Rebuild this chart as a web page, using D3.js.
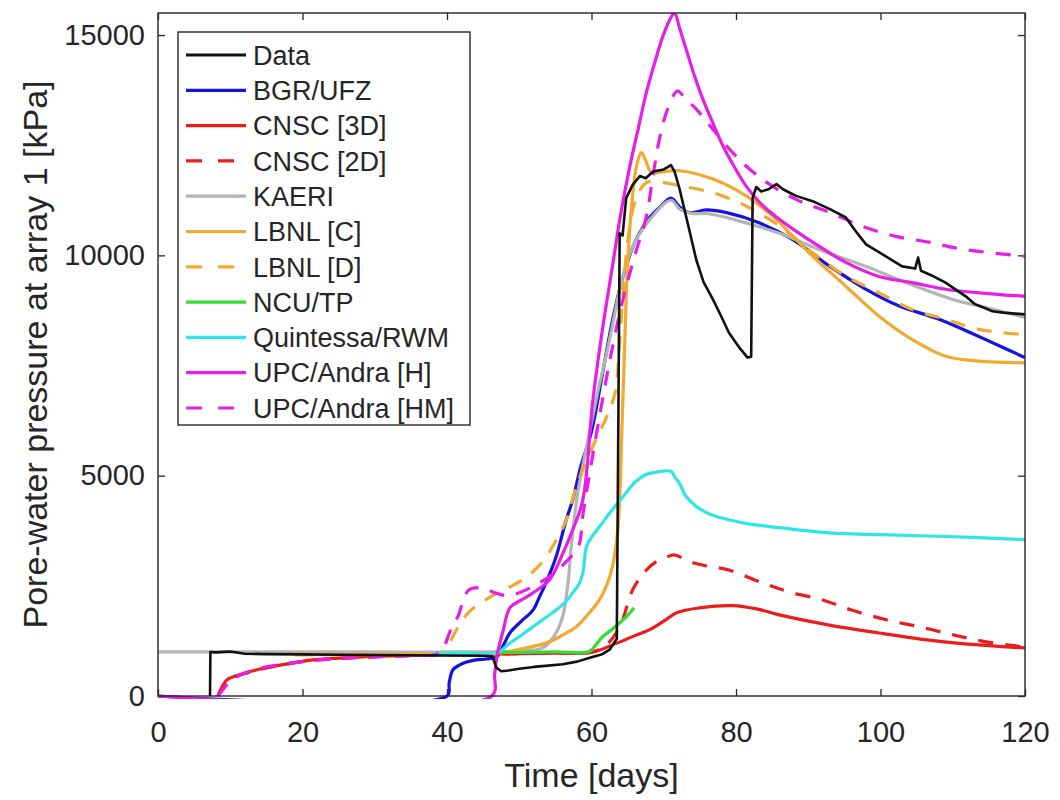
<!DOCTYPE html>
<html>
<head>
<meta charset="utf-8">
<script src="https://cdn.jsdelivr.net/npm/d3@7"></script>
<style>
  body { margin: 0; background: #fff; }
  svg { font-family: "Liberation Sans", Arial, Helvetica, sans-serif; }
</style>
</head>
<body>
<svg id="chart" width="1060" height="800"></svg>
<script>
// values: [time (days), pressure (kPa)]
const obsData = [[7.2,0],[7.25,1000],[8,990],[10,1010],[12,960],[15,950],[20,945],[25,935],[30,930],[35,925],[40,920],[45,915],[46.3,900],[46.8,650],[47.5,560],[48.5,580],[50,620],[52,660],[54,690],[56,720],[58,780],[60,880],[61.5,950],[62.5,1050],[63.5,1300],[63.9,10500],[64.3,10450],[64.8,11300],[65.7,11600],[66.7,11800],[67.5,11750],[68.5,11900],[70,11950],[71,12050],[71.5,11900],[72.2,11500],[73.5,10600],[74.5,9900],[75.5,9400],[76.8,9000],[78,8600],[79,8250],[80.5,7900],[81.6,7680],[82.1,7700],[82.3,11300],[82.8,11550],[83.5,11450],[84.5,11500],[85.6,11620],[86.5,11500],[88.3,11350],[90.6,11230],[93,11050],[95.2,10860],[96.7,10520],[98,10250],[100,10050],[103,9750],[104.8,9700],[105.2,9950],[105.6,9650],[107,9550],[109,9380],[111.8,9070],[113,8900],[115.5,8730],[117,8700],[120,8660]];

const bgrUfz = [[0,0],[40,0],[40.3,300],[40.8,590],[41.7,700],[42.7,770],[44,820],[45.5,840],[46.9,890],[47.8,1150],[48.7,1430],[50.3,1700],[51.9,1950],[52.8,2250],[53.7,2570],[55.1,3160],[56.5,4000],[57.4,4450],[58.5,5200],[60,6000],[61.5,7300],[63,8600],[64.5,9600],[66,10300],[68,10850],[69.5,11100],[71,11300],[72.2,11100],[73.5,10970],[75.9,11030],[78.7,10970],[83.2,10740],[87.8,10360],[92.9,9760],[98,9230],[102.6,8850],[108.1,8550],[113.6,8160],[120,7680]];

const cnsc3d = [[8.3,0],[9.5,360],[11,470],[12.7,550],[14.5,630],[16.9,700],[21.4,820],[25,860],[30,900],[35,920],[40,940],[45,950],[50,960],[55,970],[60,990],[63.5,1200],[66,1370],[68,1500],[70,1700],[71.8,1890],[75,2000],[79.5,2050],[83,1970],[86,1840],[92.9,1610],[99.8,1430],[106.7,1270],[113.6,1160],[120,1090]];

const cnsc2d = [[8.3,0],[9.5,340],[11,460],[12.7,540],[14.5,620],[17,700],[21,800],[25,850],[30,890],[35,915],[40,930],[45,945],[50,960],[55,975],[60,1000],[62,1150],[63.9,1570],[65.7,2410],[67.6,2860],[69,3050],[70.5,3160],[71.5,3200],[73.6,3050],[76,2950],[79,2860],[83.6,2570],[87.4,2360],[92,2180],[96,1950],[100.8,1730],[105.4,1570],[110,1390],[114.6,1230],[120,1110]];

const kaeri = [[0,1000],[10,1000],[20,1000],[30,1000],[40,1000],[50,1020],[53.2,1090],[54.8,1350],[56,1800],[56.7,2500],[57.2,3390],[58,4500],[59,5400],[60,6200],[61,7000],[62,7700],[63,8500],[64,9300],[65,9900],[66,10300],[68,10800],[71,11250],[72.2,11050],[74,10950],[76,10950],[80,10800],[86,10500],[92,10100],[98,9750],[104,9350],[110,9000],[115,8800],[120,8590]];

const lbnlC = [[19,930],[25,940],[30,940],[35,945],[40,950],[45,960],[47.3,980],[50,1060],[53.7,1200],[56,1380],[57.9,1570],[59.5,1850],[61.1,2180],[62.2,2550],[62.9,2930],[63.6,3700],[63.9,4450],[64.2,6000],[64.6,8000],[65,9800],[65.6,11200],[66.2,12000],[66.9,12330],[67.5,12150],[68.3,11880],[70,11900],[72.2,11920],[76.8,11730],[81.4,11350],[85.1,10890],[88.3,10360],[90.6,9980],[95.2,9300],[99.8,8620],[104.4,8090],[109,7710],[113.6,7600],[120,7560]];

const lbnlD = [[19,940],[25,945],[30,950],[35,955],[38.5,960],[39.4,980],[40.3,1200],[41.5,1550],[43,1900],[46,2250],[49,2500],[51,2700],[53,3000],[55,3500],[56.5,4000],[58,4800],[60,5600],[62,6300],[63.3,6900],[63.8,7800],[64.3,9000],[65,10300],[66,11200],[67.6,11650],[70,11650],[72.2,11580],[76.8,11420],[81.4,11120],[86,10670],[90.6,10060],[95.2,9530],[99.8,9150],[104.4,8770],[109,8550],[113.6,8320],[120,8200]];

const ncuTp = [[46.5,990],[50,990],[55,1000],[59.7,1010],[60.8,1200],[61.5,1340],[63,1530],[63.9,1660],[65,1830],[65.9,2000]];

const quintessa = [[38,970],[42,975],[46.9,985],[48.7,1200],[50.3,1380],[51.9,1570],[53.5,1760],[55.1,1950],[56.5,2150],[57.4,2340],[58.3,2550],[58.8,2790],[59.3,3390],[60,3600],[61.1,3840],[62.9,4230],[64.5,4550],[66,4850],[67.5,5020],[69,5080],[71,5100],[71.6,4950],[72.2,4820],[73,4550],[74.5,4300],[76.5,4120],[79,4000],[82,3900],[86,3820],[92.9,3700],[99.8,3660],[109,3620],[120,3550]];

const upcH = [[0,0],[46.2,0],[46.6,500],[47,980],[47.8,1500],[48.7,2000],[50.3,2180],[51.9,2340],[54.2,2640],[55.8,3150],[57.4,3770],[58.8,4450],[60.2,6730],[61.5,8300],[62.9,9750],[64,10900],[65.3,12020],[66.5,12900],[67.6,13700],[68.8,14400],[69.9,14980],[71,15400],[71.5,15500],[72.2,15150],[73.1,14680],[74.2,14100],[75.4,13550],[76.8,13000],[78.2,12480],[79.8,12000],[81.4,11570],[83.5,11160],[86,10820],[88.3,10550],[90.6,10300],[95.2,9840],[99.8,9520],[104.4,9380],[109,9230],[113.6,9150],[120,9070]];

const upcHM = [[8.3,0],[9,150],[10,330],[12,520],[15,660],[20,780],[25,850],[30,890],[35,920],[38.5,950],[39.5,1100],[40.5,1500],[41.5,1800],[43,2400],[45,2450],[46.5,2350],[48.5,2280],[51.5,2450],[54.5,2750],[56.5,3050],[58.2,3400],[58.8,4100],[60,5300],[61.5,6700],[63,8000],[64.5,9100],[66,10000],[67.6,10890],[68.5,11800],[69.4,12640],[70.5,13300],[71.9,13730],[73,13550],[74.5,13320],[76.8,12860],[80,12250],[83.6,11730],[88.3,11270],[92.9,10980],[97.5,10660],[102.1,10430],[106.7,10300],[111.3,10140],[120,9980]];

const xTicks = [0, 20, 40, 60, 80, 100, 120];
const yTicks = [0, 5000, 10000, 15000];

const series = [
  { name: "Data", values: obsData, color: "#111111", dash: null, smooth: false },
  { name: "BGR/UFZ", values: bgrUfz, color: "#1414dc", dash: null, smooth: true },
  { name: "CNSC [3D]", values: cnsc3d, color: "#ea1c1c", dash: null, smooth: true },
  { name: "CNSC [2D]", values: cnsc2d, color: "#ea1c1c", dash: "15,12", smooth: true },
  { name: "KAERI", values: kaeri, color: "#b4b4b4", dash: null, smooth: true },
  { name: "LBNL [C]", values: lbnlC, color: "#f2a930", dash: null, smooth: true },
  { name: "LBNL [D]", values: lbnlD, color: "#f2a930", dash: "15,12", smooth: true },
  { name: "NCU/TP", values: ncuTp, color: "#36dc36", dash: null, smooth: true },
  { name: "Quintessa/RWM", values: quintessa, color: "#2ee6e6", dash: null, smooth: true },
  { name: "UPC/Andra [H]", values: upcH, color: "#e61ee6", dash: null, smooth: true },
  { name: "UPC/Andra [HM]", values: upcHM, color: "#e61ee6", dash: "15,12", smooth: true }
];

const textColor = "#262626";
const svg = d3.select("#chart");

const x = d3.scaleLinear().domain([0, 120]).range([158, 1025]);
const y = d3.scaleLinear().domain([0, 15500]).range([696, 13]);

// clip a little below the x axis so lines sitting at 0 stay visible
svg.append("defs").append("clipPath").attr("id", "plotArea")
  .append("rect")
  .attr("x", x(0)).attr("y", y(15500))
  .attr("width", x(120) - x(0)).attr("height", y(0) - y(15500) + 3);

// axes with inward ticks
const xAxis = svg.append("g")
  .attr("transform", `translate(0,${y(0)})`)
  .call(d3.axisBottom(x).tickValues(xTicks).tickSizeInner(-7).tickSizeOuter(0).tickPadding(25));
const xAxisTop = svg.append("g")
  .attr("transform", `translate(0,${y(15500)})`)
  .call(d3.axisTop(x).tickValues(xTicks).tickSizeInner(-7).tickSizeOuter(0).tickFormat(""));
const yAxis = svg.append("g")
  .attr("transform", `translate(${x(0)},0)`)
  .call(d3.axisLeft(y).tickValues(yTicks).tickFormat(d3.format("d")).tickSizeInner(-7).tickSizeOuter(0).tickPadding(13));
const yAxisRight = svg.append("g")
  .attr("transform", `translate(${x(120)},0)`)
  .call(d3.axisRight(y).tickValues(yTicks).tickSizeInner(-7).tickSizeOuter(0).tickFormat(""));

[xAxis, xAxisTop, yAxis, yAxisRight].forEach(g => {
  g.select(".domain").remove();
  g.selectAll(".tick line").attr("stroke", textColor).attr("stroke-width", 1.3);
  g.selectAll(".tick text")
    .attr("fill", textColor)
    .style("font-size", "29px")
    .style("font-family", "'Liberation Sans', Arial, sans-serif");
});

// lines
const plot = svg.append("g").attr("clip-path", "url(#plotArea)");
const lineSmooth = d3.line().x(d => x(d[0])).y(d => y(d[1])).curve(d3.curveCatmullRom.alpha(0.5));
const lineRaw = d3.line().x(d => x(d[0])).y(d => y(d[1]));

// data drawn last so it stays on top
const drawOrder = series.slice(1).concat([series[0]]);
drawOrder.forEach(s => {
  plot.append("path")
    .attr("d", s.smooth ? lineSmooth(s.values) : lineRaw(s.values))
    .attr("fill", "none")
    .attr("stroke", s.color)
    .attr("stroke-width", s.smooth ? 3.2 : 2.6)
    .attr("stroke-linejoin", "round")
    .attr("stroke-dasharray", s.dash);
});

// box
svg.append("rect")
  .attr("x", x(0)).attr("y", y(15500))
  .attr("width", x(120) - x(0)).attr("height", y(0) - y(15500))
  .attr("fill", "none").attr("stroke", textColor).attr("stroke-width", 1.4);

// axis labels
svg.append("text")
  .attr("x", (x(0) + x(120)) / 2).attr("y", 787)
  .attr("text-anchor", "middle")
  .attr("fill", textColor)
  .style("font-size", "34px")
  .text("Time [days]");

svg.append("text")
  .attr("transform", `translate(47,${(y(0) + y(15500)) / 2}) rotate(-90)`)
  .attr("text-anchor", "middle")
  .attr("fill", textColor)
  .style("font-size", "34px")
  .text("Pore-water pressure at array 1 [kPa]");

// legend
const legend = svg.append("g");
legend.append("rect")
  .attr("x", 178).attr("y", 32).attr("width", 292).attr("height", 393)
  .attr("fill", "#fff").attr("stroke", textColor).attr("stroke-width", 1.4);

series.forEach((s, i) => {
  const ly = 55 + i * 35.3;
  legend.append("line")
    .attr("x1", 186).attr("x2", 246).attr("y1", ly).attr("y2", ly)
    .attr("stroke", s.color).attr("stroke-width", 3.2)
    .attr("stroke-dasharray", s.dash ? "16,16" : null);
  legend.append("text")
    .attr("x", 253).attr("y", ly)
    .attr("dy", "0.36em")
    .attr("fill", textColor)
    .style("font-size", "27px")
    .text(s.name);
});
</script>
</body>
</html>
